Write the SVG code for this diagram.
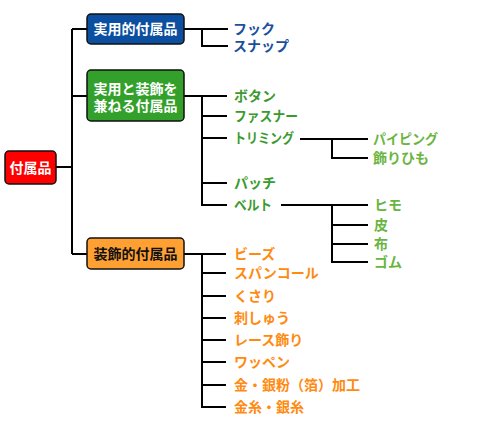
<svg xmlns="http://www.w3.org/2000/svg" width="490" height="432" viewBox="0 0 490 432">
<style>
.box{stroke:#111;stroke-width:1.5}
.bt{font-family:"Noto Sans CJK JP","Noto Sans CJK SC",sans-serif;font-size:14px;font-weight:bold;fill:#fff;text-anchor:middle}
.t{font-family:"Noto Sans CJK JP","Noto Sans CJK SC",sans-serif;font-size:14px;font-weight:bold}
.blue{fill:#1a4f9c}
.g1{fill:#3a9a2e}
.g2{fill:#6ab540}
.or{fill:#ff8a10}
#connectors path{fill:none;stroke:#000;stroke-width:2}
</style>
<rect width="490" height="432" fill="#fff"/>
<g id="connectors">
<path d="M56 167H72M72 29V254M72 29H87M72 96H87M72 254H87"/>
<path d="M184 29H202V46H228M202 29H228"/>
<path d="M184 96H202V205H227M202 96H227M202 116H227M202 138H227M202 183H227"/>
<path d="M300 139H368M332 139V158H368"/>
<path d="M281 205H368M332 205V262H368M332 225H368M332 244H368"/>
<path d="M184 254H202V407H226M202 254H226M202 273H226M202 296H226M202 318H226M202 340H226M202 362H226M202 385H226"/>
</g>
<g id="root">
<rect class="box" x="5" y="151" width="51" height="33" rx="4" fill="#ff0000"/>
<text class="bt" x="30.5" y="172.5">付属品</text>
</g>
<g id="n1">
<rect class="box" x="87" y="14" width="97" height="30" rx="4" fill="#0c4fa0"/>
<text class="bt" x="135.5" y="34">実用的付属品</text>
</g>
<g id="n2">
<rect class="box" x="87" y="70" width="97" height="51" rx="4" fill="#33a02c"/>
<text class="bt" x="135.5" y="94">実用と装飾を</text>
<text class="bt" x="135.5" y="111">兼ねる付属品</text>
</g>
<g id="n3">
<rect class="box" x="87" y="238" width="97" height="31" rx="4" fill="#ffa033"/>
<text class="bt" x="135.5" y="259" style="fill:#111">装飾的付属品</text>
</g>
<g id="l1">
<text class="t blue" x="233" y="34">フック</text>
<text class="t blue" x="233" y="51">スナップ</text>
</g>
<g id="l2">
<text class="t g1" x="234" y="101">ボタン</text>
<text class="t g1" x="234" y="121" textLength="64" lengthAdjust="spacingAndGlyphs">ファスナー</text>
<text class="t g1" x="234" y="143" textLength="60" lengthAdjust="spacingAndGlyphs">トリミング</text>
<text class="t g1" x="234" y="188">パッチ</text>
<text class="t g1" x="234" y="210" textLength="38" lengthAdjust="spacingAndGlyphs">ベルト</text>
</g>
<g id="l3">
<text class="t g2" x="373" y="144" textLength="65" lengthAdjust="spacingAndGlyphs">パイピング</text>
<text class="t g2" x="373" y="163">飾りひも</text>
<text class="t g2" x="374" y="210">ヒモ</text>
<text class="t g2" x="374" y="230">皮</text>
<text class="t g2" x="374" y="249">布</text>
<text class="t g2" x="374" y="267">ゴム</text>
</g>
<g id="l4">
<text class="t or" x="234" y="259">ビーズ</text>
<text class="t or" x="234" y="278">スパンコール</text>
<text class="t or" x="234" y="301">くさり</text>
<text class="t or" x="234" y="323">刺しゅう</text>
<text class="t or" x="234" y="345">レース飾り</text>
<text class="t or" x="234" y="367">ワッペン</text>
<text class="t or" x="234" y="390">金・銀粉（箔）加工</text>
<text class="t or" x="234" y="412">金糸・銀糸</text>
</g>
</svg>
